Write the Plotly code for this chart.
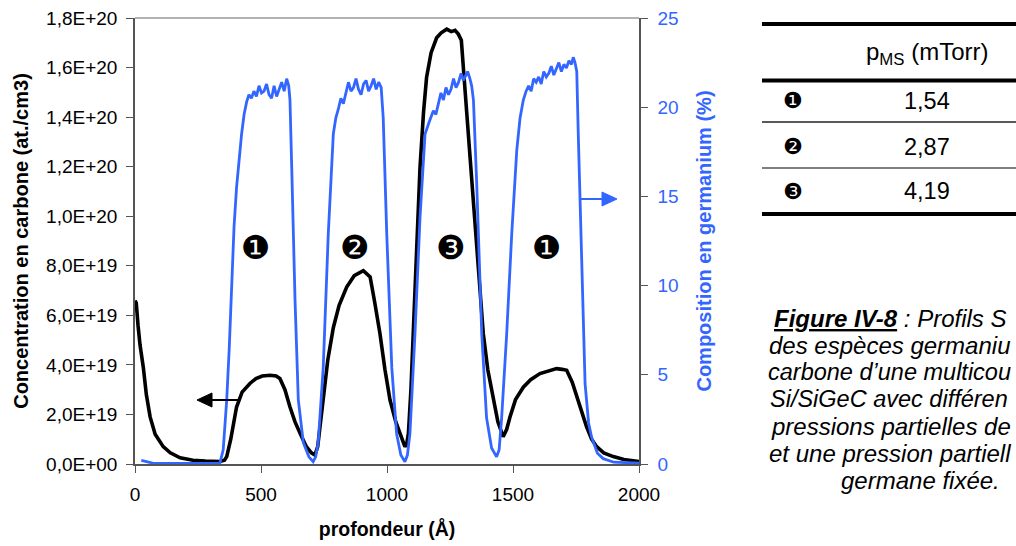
import plotly.graph_objects as go

# ---------------- data ----------------
depth_c = [0, 5, 12, 20, 33, 45, 60, 80, 112, 140, 179, 230, 280, 337, 355, 364, 380, 403, 425,
           456, 480, 505, 536, 560, 575, 595, 615, 635, 655, 680, 700, 714, 725, 747, 765, 787,
           810, 840, 870, 906, 933, 950, 972, 992, 1012, 1035, 1052, 1064, 1071, 1078, 1085,
           1095, 1104, 1118, 1131, 1145, 1157, 1175, 1197, 1215, 1237, 1255, 1270, 1283, 1295,
           1303, 1315, 1329, 1343, 1356, 1370, 1382, 1400, 1422, 1440, 1461, 1475, 1488, 1510,
           1541, 1570, 1607, 1640, 1673, 1695, 1713, 1735, 1753, 1772, 1792, 1812, 1832, 1860,
           1898, 1940, 1970, 2000]
carbon = [6.6e19, 6.5e19, 5.6e19, 4.8e19, 3.9e19, 2.8e19, 1.9e19, 1.2e19, 0.7e19, 0.45e19,
          0.25e19, 0.15e19, 0.12e19, 0.1e19, 0.15e19, 0.3e19, 1.0e19, 2.3e19, 2.9e19,
          3.25e19, 3.45e19, 3.55e19, 3.58e19, 3.55e19, 3.45e19, 3.0e19, 2.3e19, 1.7e19, 1.24e19,
          0.7e19, 0.45e19, 0.36e19, 0.7e19, 2.58e19, 4.2e19, 5.5e19, 6.4e19, 7.14e19, 7.6e19,
          7.8e19, 7.55e19, 6.6e19, 5.27e19, 3.8e19, 2.58e19, 1.7e19, 1.24e19, 0.85e19, 0.7e19,
          0.8e19, 1.24e19, 3.0e19, 5.27e19, 8.8e19, 11.97e19, 14.2e19, 15.6e19, 16.6e19,
          17.2e19, 17.4e19, 17.55e19, 17.45e19, 17.5e19, 17.35e19, 17.1e19, 16.0e19, 14.4e19,
          12.6e19, 10.6e19, 8.6e19, 6.8e19, 5.27e19, 3.8e19, 2.58e19, 1.7e19, 1.1e19, 1.4e19,
          1.9e19, 2.6e19, 3.1e19, 3.4e19, 3.65e19, 3.75e19, 3.85e19, 3.82e19, 3.78e19, 3.3e19,
          2.7e19, 2.1e19, 1.5e19, 1.0e19, 0.7e19, 0.45e19, 0.3e19, 0.18e19, 0.14e19, 0.1e19]

depth_ge = [25, 40, 70, 150, 250, 337,
            350, 364, 374, 384, 393, 403, 413, 423, 433,
            443, 452, 462, 472, 482, 492, 502, 512, 522, 532, 542, 552, 562, 572, 582, 592, 602, 610, 615,
            622, 635, 648, 668, 690, 707,
            717, 727, 747, 767, 787,
            797, 807, 817, 827, 837, 847, 857, 867, 877, 887, 897, 907, 917, 927, 937, 947, 957, 967, 977,
            985, 999, 1019, 1038, 1055, 1071,
            1081, 1091, 1111, 1131, 1151,
            1168, 1184, 1194, 1204, 1214, 1224, 1234, 1244, 1254, 1264, 1274, 1284, 1294, 1303, 1312, 1320, 1329, 1336,
            1343, 1356, 1376, 1395, 1415, 1435,
            1445, 1455, 1475, 1495, 1515,
            1528, 1541, 1552, 1562, 1572, 1582, 1592, 1602, 1612, 1622, 1632, 1642, 1652, 1662, 1672, 1682,
            1692, 1702, 1712, 1722, 1732, 1739, 1746, 1753,
            1759, 1772, 1786, 1800, 1812, 1835, 1858, 1900, 1960, 2000]
germanium = [0.2, 0.15, 0.05, 0.03, 0.03, 0.05,
             0.8, 3.6, 6.5, 10.1, 13.3, 15.5, 17.2, 18.5, 19.6,
             20.3, 20.7, 20.5, 20.9, 20.6, 21.2, 20.8, 20.9, 21.3, 20.7, 20.5, 21.2, 20.6, 21.0, 21.4, 20.9, 21.6, 21.2, 20.4,
             16.6, 9.2, 3.6, 1.2, 0.4, 0.13,
             0.4, 1.2, 5.4, 12.9, 18.5,
             19.4, 19.9, 20.5, 20.2, 20.9, 21.4, 20.9, 21.1, 21.6, 21.0, 20.7, 21.3, 21.5, 20.9, 21.2, 21.6, 21.0, 21.4, 21.1,
             19.4, 12.9, 5.4, 1.7, 0.5, 0.13,
             0.5, 1.7, 7.3, 13.8, 18.5,
             19.2, 19.8, 19.6, 20.3, 20.8, 20.4, 21.1, 20.7, 21.0, 21.6, 21.1, 21.4, 21.9, 21.5, 21.8, 22.0, 21.6, 21.2,
             20.4, 15.7, 7.3, 2.6, 0.9, 0.4,
             0.8, 2.6, 7.3, 12.9, 17.6,
             19.4, 20.4, 20.9, 21.2, 20.9, 21.6, 21.4, 21.7, 21.3, 22.0, 21.7, 21.9, 22.3, 21.8, 22.2, 22.5,
             22.0, 22.4, 22.2, 22.6, 22.4, 22.8, 22.5, 22.0,
             18.5, 11.0, 4.5, 2.3, 1.5, 0.6, 0.3, 0.1, 0.05, 0.05]

x_ticks = [0, 500, 1000, 1500, 2000]
x_tick_labels = ["0", "500", "1000", "1500", "2000"]
c_ticks = [0, 2e19, 4e19, 6e19, 8e19, 1.0e20, 1.2e20, 1.4e20, 1.6e20, 1.8e20]
c_tick_labels = ["0,0E+00", "2,0E+19", "4,0E+19", "6,0E+19", "8,0E+19",
                 "1,0E+20", "1,2E+20", "1,4E+20", "1,6E+20", "1,8E+20"]
ge_ticks = [0, 5, 10, 15, 20, 25]
ge_tick_labels = ["0", "5", "10", "15", "20", "25"]

layer_labels = ["❶", "❷", "❸", "❶"]
layer_depths = [480, 873, 1254, 1635]

table_keys = ["❶", "❷", "❸"]
table_values = ["1,54", "2,87", "4,19"]

# caption as visible in the (cropped) reference
caption_lines = ["<b><u>Figure IV-8</u></b> : Profils S",
                 "des espèces germaniu",
                 "carbone d’une multicou",
                 "Si/SiGeC avec différen",
                 "pressions partielles de",
                 "et une pression partiell",
                 "germane fixée."]

# ---------------- styles ----------------
BLUE = "#3366FF"
FONT = "Liberation Sans, Arial, sans-serif"
AXIS_GREY = "#555555"
L, R, T, B = 135, 639, 18, 464   # plot-area pixel box

fig = go.Figure()
fig.add_trace(go.Scatter(x=depth_ge, y=germanium, yaxis="y2", mode="lines",
                         line=dict(color=BLUE, width=2.8), showlegend=False))
fig.add_trace(go.Scatter(x=depth_c, y=carbon, mode="lines",
                         line=dict(color="black", width=3.6), showlegend=False))

fig.update_layout(
    width=1016, height=546,
    margin=dict(l=L, r=1016 - R, t=T, b=546 - B, autoexpand=False),
    paper_bgcolor="white", plot_bgcolor="white",
    font=dict(family=FONT, color="black", size=18),
    xaxis=dict(range=[0, 2000], tickvals=x_ticks, ticktext=x_tick_labels,
               title=dict(text="<b>profondeur (Å)</b>", font=dict(size=19.5), standoff=19),
               showgrid=False, zeroline=False, showline=True, linecolor=AXIS_GREY,
               linewidth=1.5, ticks="outside", ticklen=7, tickcolor=AXIS_GREY,
               ticklabelstandoff=5, tickfont=dict(size=19), fixedrange=True,
               automargin=False),
    yaxis=dict(range=[0, 1.8e20], tickvals=c_ticks, ticktext=c_tick_labels,
               title=dict(text="<b>Concentration en carbone (at./cm3)</b>",
                          font=dict(size=20), standoff=12),
               showgrid=False, zeroline=False, showline=True, linecolor=AXIS_GREY,
               linewidth=1.5, ticks="outside", ticklen=7, tickcolor=AXIS_GREY,
               ticklabelstandoff=5, tickfont=dict(size=19), fixedrange=True,
               automargin=False),
    yaxis2=dict(range=[0, 25], tickvals=ge_ticks, ticktext=ge_tick_labels,
                title=dict(text="<b>Composition en germanium (%)</b>",
                           font=dict(size=20, color=BLUE), standoff=19),
                overlaying="y", side="right", showgrid=False, zeroline=False,
                showline=True, linecolor=AXIS_GREY, linewidth=1.5, ticks="outside",
                ticklen=7, tickcolor=AXIS_GREY, ticklabelstandoff=6,
                tickfont=dict(size=19, color=BLUE), fixedrange=True, automargin=False),
)


def px_x(px):
    return (px - L) / (R - L)


def px_y(py):
    return (B - py) / (B - T)


def note(text, px, py, size, color="black", family=None, angle=0, anchor="center"):
    f = dict(size=size, color=color)
    if family:
        f["family"] = family
    fig.add_annotation(text=text, xref="paper", yref="paper", x=px_x(px), y=px_y(py),
                       xanchor=anchor, yanchor="middle", showarrow=False,
                       textangle=angle, font=f)


def arrow(x_tail, x_tip, py, color):
    """horizontal arrow drawn with shapes (pixel positions -> paper coords)"""
    d = 1 if x_tip > x_tail else -1
    x_base = x_tip - d * 15
    fig.add_shape(type="line", xref="paper", yref="paper",
                  x0=px_x(x_tail), x1=px_x(x_base), y0=px_y(py), y1=px_y(py),
                  line=dict(color=color, width=2))
    path = (f"M {px_x(x_tip)},{px_y(py)} L {px_x(x_base)},{px_y(py - 7)} "
            f"L {px_x(x_base)},{px_y(py + 7)} Z")
    fig.add_shape(type="path", xref="paper", yref="paper", path=path,
                  fillcolor=color, line=dict(color=color, width=1))


# top frame line
fig.add_shape(type="line", xref="paper", yref="paper", x0=0, x1=1, y0=1, y1=1,
              line=dict(color="#999999", width=1.5))

# arrows pointing to each curve's axis
arrow(240, 197, 400, "black")
arrow(581, 617, 199, BLUE)

# layer markers
for lab, d in zip(layer_labels, layer_depths):
    fig.add_annotation(text=lab, x=d, y=8.74e19, xref="x", yref="y", showarrow=False,
                       xanchor="center", yanchor="middle",
                       font=dict(size=33, color="black", family="DejaVu Sans"))

# table
for py, w, col in [(24, 4, "black"), (80.5, 4, "black"), (122, 1.5, "#222222"),
                   (168, 1.5, "#555555"), (214, 4, "black")]:
    fig.add_shape(type="line", xref="paper", yref="paper", x0=px_x(762), x1=px_x(1020),
                  y0=px_y(py), y1=px_y(py), line=dict(color=col, width=w))

note("p<sub>MS</sub> (mTorr)", 927, 53, 24)
for k, v, py in zip(table_keys, table_values, [101, 147, 191]):
    note(k, 793, py, 22, family="DejaVu Sans")
    note(v, 927, py, 23.5)

# caption (lines 1-6 are cut by the right page edge in the reference)
caption_starts = [772, 767, 766, 768, 769, 767]
caption_sizes = [24, 24, 23.5, 23.5, 24, 24]
for i, line in enumerate(caption_lines):
    py = 318 + 27 * i
    if i < len(caption_starts):
        note("<i>" + line + "</i>", caption_starts[i], py, caption_sizes[i], anchor="left")
    else:
        note("<i>" + line + "</i>", 920, py, 24)

fig.write_html("out.html", post_script="document.body.style.margin='0px';",
               config={"displayModeBar": False})
